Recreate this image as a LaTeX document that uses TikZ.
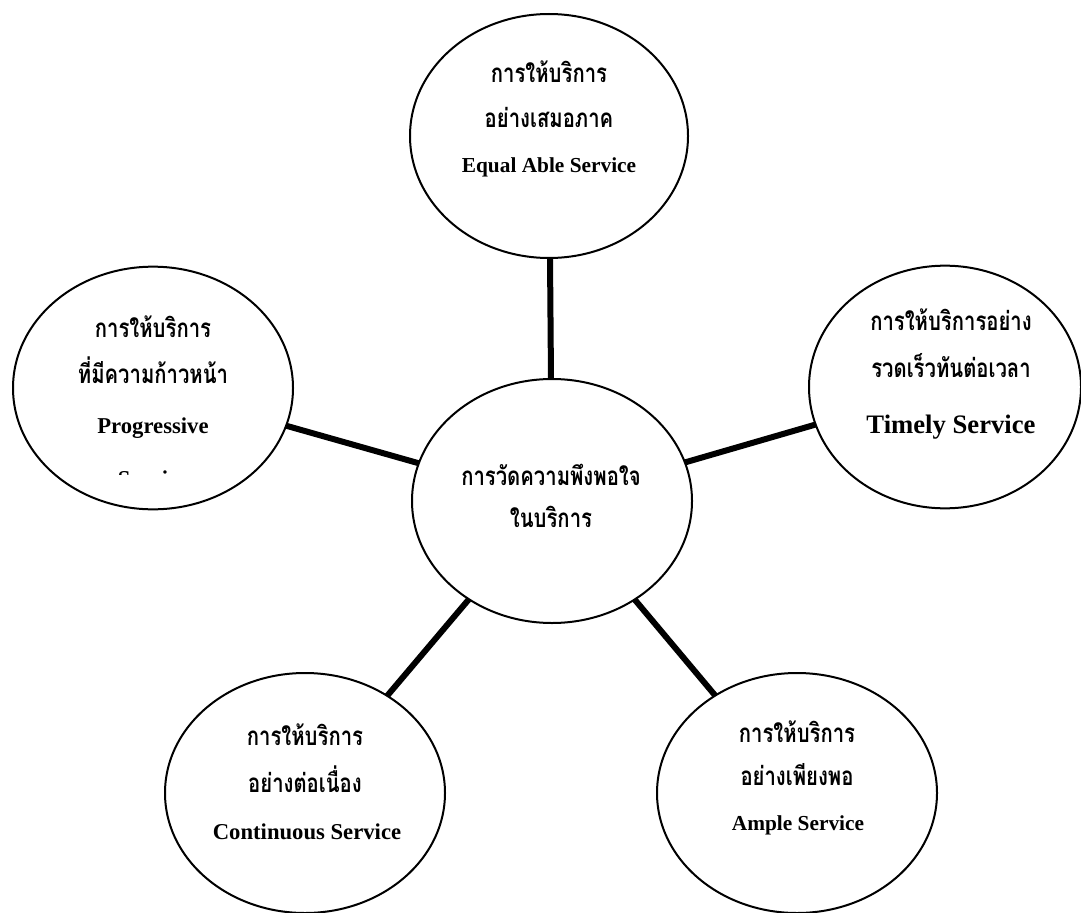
\documentclass[tikz,border=0pt]{standalone}
\usepackage{fontspec}
\setmainfont{Liberation Serif}
\newfontfamily\thaifont[Script=Thai, FakeStretch=0.78]{Loma}
\usetikzlibrary{shapes.geometric}
\tikzset{
  bub/.style={draw, ellipse, line width=1.5pt, inner sep=0pt, outer sep=0pt, minimum width=#1},
  conn/.style={line width=4.5pt},
  th/.style={anchor=base, inner sep=0pt, font=\thaifont\bfseries\fontsize{19.5}{22}\selectfont},
  en/.style={anchor=base, inner sep=0pt, font=\bfseries\fontsize{16}{19}\selectfont},
}
\begin{document}
\begin{tikzpicture}[x=0.75pt, y=-0.75pt]
\useasboundingbox (0,0) rectangle (1081,913);
% ellipses
\node[bub=208.5pt, minimum height=183pt] (top) at (549,136) {};
\node[bub=210pt, minimum height=183pt] (mid) at (552,501) {};
\node[bub=210pt, minimum height=182pt] (lft) at (153,388) {};
\node[bub=204pt, minimum height=182pt] (rgt) at (945,387) {};
\node[bub=210pt, minimum height=180pt] (bl) at (305,793) {};
\node[bub=210pt, minimum height=180pt] (br) at (797,793) {};
% connectors
\draw[conn] (mid) -- (top);
\draw[conn] (mid) -- (lft);
\draw[conn] (mid) -- (rgt);
\draw[conn] (mid) -- (bl);
\draw[conn] (mid) -- (br);
% texts
\node[th] (top1) at (549,83) {การให้บริการ};
\node[th] (top2) at (549,128) {อย่างเสมอภาค};
\node[en] (top3) at (549,173) {Equal Able Service};
\node[th] (lft1) at (153,337) {การให้บริการ};
\node[th] (lft2) at (153,383) {ที่มีความก้าวหน้า};
\node[en, font=\bfseries\fontsize{17}{20}\selectfont] (lft3) at (153,433) {Progressive};
\begin{scope}
\clip (0,0) rectangle (1081,474);
\node[en, font=\bfseries\fontsize{17}{20}\selectfont] (lft4) at (153,486) {Service};
\end{scope}
\node[th] (rgt1) at (951,330) {การให้บริการอย่าง};
\node[th] (rgt2) at (951,377) {รวดเร็วทันต่อเวลา};
\node[en, font=\bfseries\fontsize{20}{24}\selectfont] (rgt3) at (951,433) {Timely Service};
\node[th] (mid1) at (551,485) {การวัดความพึงพอใจ};
\node[th] (mid2) at (551,527) {ในบริการ};
\node[th] (bl1) at (305,745) {การให้บริการ};
\node[th] (bl2) at (305,792) {อย่างต่อเนื่อง};
\node[en, font=\bfseries\fontsize{17}{20}\selectfont] (bl3) at (307,839) {Continuous Service};
\node[th] (br1) at (797,742) {การให้บริการ};
\node[th] (br2) at (797,785) {อย่างเพียงพอ};
\node[en] (br3) at (798,830) {Ample Service};
\end{tikzpicture}
\end{document}
